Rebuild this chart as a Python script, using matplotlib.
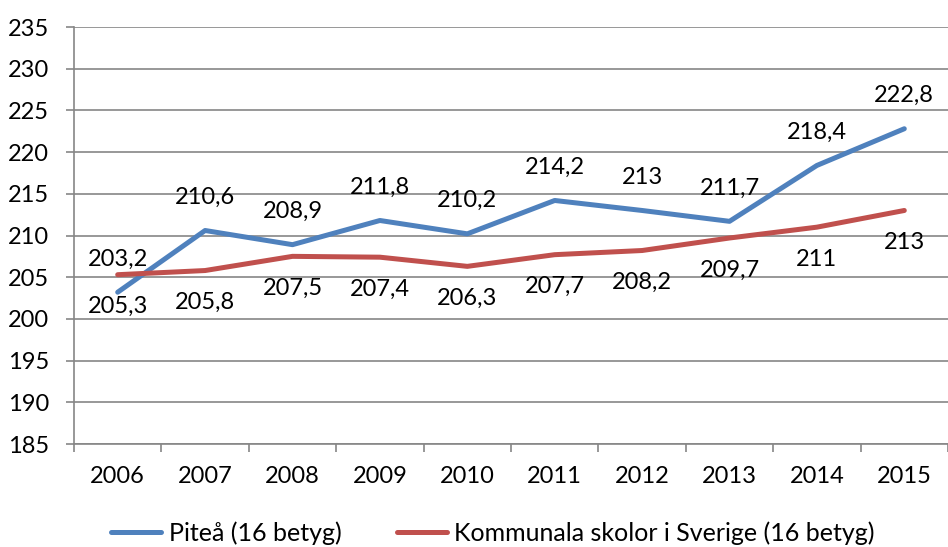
import numpy as np
import matplotlib.pyplot as plt

plt.rcParams['font.family'] = ['Lato', 'DejaVu Sans']

years = ['2006', '2007', '2008', '2009', '2010', '2011', '2012', '2013', '2014', '2015']
pitea = [203.2, 210.6, 208.9, 211.8, 210.2, 214.2, 213, 211.7, 218.4, 222.8]
sverige = [205.3, 205.8, 207.5, 207.4, 206.3, 207.7, 208.2, 209.7, 211, 213]
yticks = list(range(185, 236, 5))

blue = '#4F81BD'
red = '#C0504D'
grid = '#868686'


def fmt(v):
	s = ('%.1f' % v).rstrip('0').rstrip('.')
	return s.replace('.', ',')


fig = plt.figure(figsize=(9.48, 5.47), dpi=100)
ax = fig.add_axes([74 / 948, 103 / 547, 874 / 948, 417 / 547])

x = np.arange(len(years))
ax.plot(x, pitea, color=blue, lw=3.6, solid_capstyle='round', label='Piteå (16 betyg)', zorder=3)
ax.plot(x, sverige, color=red, lw=3.6, solid_capstyle='round', label='Kommunala skolor i Sverige (16 betyg)', zorder=3)

# etiquettes: bleu au-dessus, rouge en dessous
for i in range(len(years)):
	ax.annotate(fmt(pitea[i]), (x[i], pitea[i]), xytext=(0, 24), textcoords='offset points',
		ha='center', va='center', fontsize=17)
	ax.annotate(fmt(sverige[i]), (x[i], sverige[i]), xytext=(0, -23), textcoords='offset points',
		ha='center', va='center', fontsize=17)

ax.set_ylim(185, 235)
ax.set_yticks(yticks)
ax.set_xlim(-0.5, 9.41)
ax.set_xticks(x)
ax.set_xticklabels(years, fontsize=17)
ax.set_xticks(np.arange(-0.5, 10, 1), minor=True)
ax.tick_params(axis='x', which='major', length=0, pad=16)
ax.tick_params(axis='x', which='minor', length=6, color=grid, width=1.2)
ax.tick_params(axis='y', length=6, color=grid, width=1.2, labelsize=17, pad=12)
ax.yaxis.grid(True, color=grid, lw=1.2)
ax.set_axisbelow(True)

for s in ['top', 'right']:
	ax.spines[s].set_visible(False)
for s in ['left', 'bottom']:
	ax.spines[s].set_color(grid)
	ax.spines[s].set_linewidth(1.2)

fig.legend(loc='center', bbox_to_anchor=(0.52, 14 / 547), ncol=2, frameon=False,
	fontsize=18, handlelength=2.0, handletextpad=0.3, columnspacing=2.2)

fig.savefig('out.png', dpi=100)
